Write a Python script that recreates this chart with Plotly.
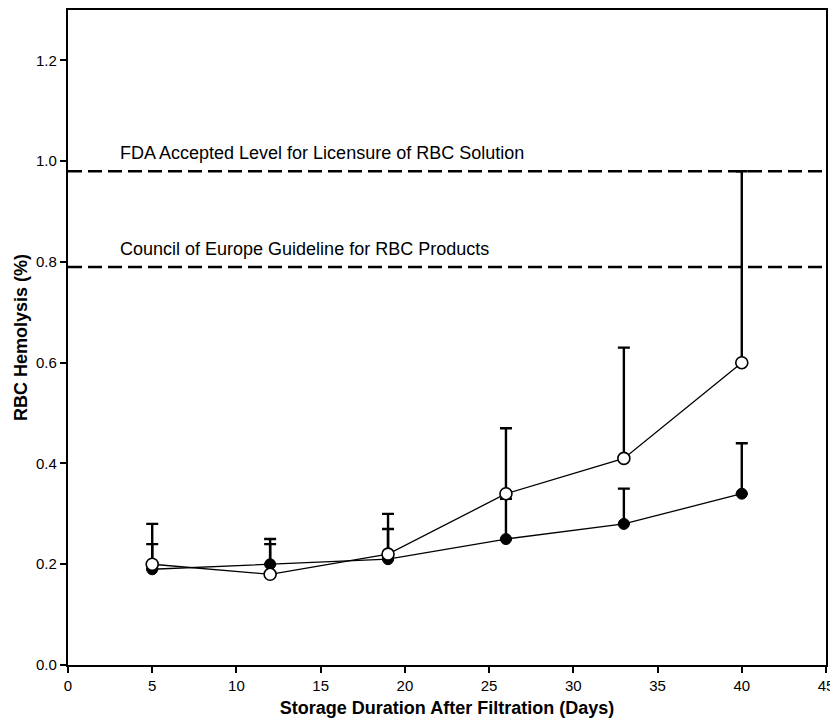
import plotly.graph_objects as go

days = [5, 12, 19, 26, 33, 40]
closed_mean = [0.19, 0.20, 0.21, 0.25, 0.28, 0.34]
closed_upper = [0.24, 0.24, 0.27, 0.33, 0.35, 0.44]
open_mean = [0.20, 0.18, 0.22, 0.34, 0.41, 0.60]
open_upper = [0.28, 0.25, 0.30, 0.47, 0.63, 0.98]

fda_level = 0.98
coe_level = 0.79
fda_label = "FDA Accepted Level for Licensure of RBC Solution"
coe_label = "Council of Europe Guideline for RBC Products"

x_ticks = [0, 5, 10, 15, 20, 25, 30, 35, 40, 45]
y_ticks = [0.0, 0.2, 0.4, 0.6, 0.8, 1.0, 1.2]

font = "Liberation Sans, Arial, Helvetica, sans-serif"

fig = go.Figure()

for lvl in (fda_level, coe_level):
    fig.add_trace(go.Scatter(x=[0, 45], y=[lvl, lvl], mode="lines",
                             line=dict(color="black", width=2.4, dash="14px,6px"),
                             hoverinfo="skip", showlegend=False))

fig.add_trace(go.Scatter(
    x=days, y=closed_mean, mode="lines+markers",
    line=dict(color="black", width=1.3),
    marker=dict(symbol="circle", size=11, color="black", line=dict(color="black", width=1)),
    error_y=dict(type="data", symmetric=False,
                 array=[u - m for u, m in zip(closed_upper, closed_mean)],
                 arrayminus=[0] * len(days), color="black", thickness=2.4, width=6),
    showlegend=False))

fig.add_trace(go.Scatter(
    x=days, y=open_mean, mode="lines+markers",
    line=dict(color="black", width=1.3),
    marker=dict(symbol="circle", size=12, color="white", line=dict(color="black", width=1.6)),
    error_y=dict(type="data", symmetric=False,
                 array=[u - m for u, m in zip(open_upper, open_mean)],
                 arrayminus=[0] * len(days), color="black", thickness=2.4, width=6),
    showlegend=False))

fig.add_annotation(x=2.95, y=fda_level, text=fda_label, showarrow=False,
                   xanchor="left", yanchor="bottom", yshift=6,
                   font=dict(family=font, size=18, color="black"))
fig.add_annotation(x=2.95, y=coe_level, text=coe_label, showarrow=False,
                   xanchor="left", yanchor="bottom", yshift=6,
                   font=dict(family=font, size=18, color="black"))

fig.update_layout(
    width=830, height=718,
    margin=dict(l=60, r=12, t=0, b=61),
    plot_bgcolor="white", paper_bgcolor="white",
    font=dict(family=font, size=15, color="black"),
)
fig.update_xaxes(range=[0, 45], tickvals=x_ticks, ticks="outside", ticklen=6,
                 tickwidth=2, tickcolor="black", showgrid=False, zeroline=False,
                 showline=True, linecolor="black", linewidth=2.4, mirror=True,
                 tickfont=dict(size=15),
                 title=dict(text="<b>Storage Duration After Filtration (Days)</b>",
                            font=dict(size=18), standoff=8))
fig.update_yaxes(range=[0, 1.3], tickvals=y_ticks, tickformat=".1f", ticks="outside",
                 ticklen=6, tickwidth=2, tickcolor="black", showgrid=False, zeroline=False,
                 showline=True, linecolor="black", linewidth=2.4, mirror=True,
                 tickfont=dict(size=15),
                 title=dict(text="<b>RBC Hemolysis (%)</b>", font=dict(size=18), standoff=4))

fig.write_html("out.html")
